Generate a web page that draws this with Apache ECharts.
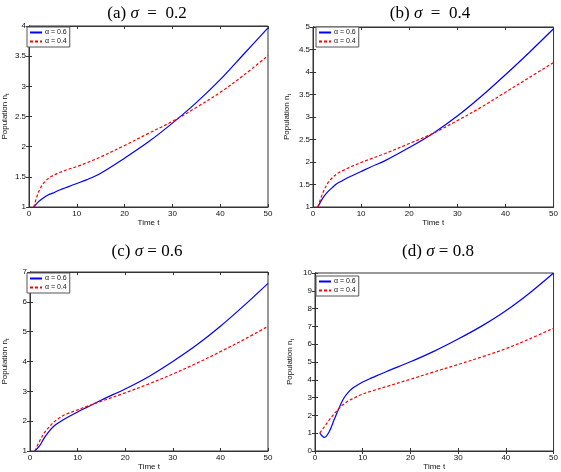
<!DOCTYPE html>
<html>
<head>
<meta charset="utf-8">
<script src="https://cdn.jsdelivr.net/npm/echarts@6/dist/echarts.min.js"></script>
<style>
html,body{margin:0;padding:0;background:#fff;}
#chart{width:561px;height:472px;}
</style>
</head>
<body>
<div id="chart"></div>
<script>
// ---- data ----
const times = [1,2,3,4,5,6,7,8,10,12,15,20,25,30,35,40,45,50];
const panelTitles = ['(a) ', '(b) ', '(c) ', '(d) '];
const sigmaValues = ['0.2', '0.4', '0.6', '0.8'];
const seriesNames = ['α = 0.6', 'α = 0.4'];
const xTicks = [0, 50, 10];            // min, max, interval
const yMinA = 1, yMaxA = 4, yStepA = 0.5;
const yMinB = 1, yMaxB = 5, yStepB = 0.5;
const yMinC = 1, yMaxC = 7, yStepC = 1;
const yMinD = 0, yMaxD = 10, yStepD = 1;

const aBlue = [1.0,1.09,1.15,1.20,1.23,1.27,1.30,1.33,1.39,1.45,1.56,1.81,2.08,2.39,2.73,3.11,3.54,3.97];
const aRed  = [1.0,1.25,1.39,1.47,1.52,1.56,1.59,1.62,1.67,1.73,1.83,2.02,2.22,2.42,2.65,2.90,3.19,3.51];
const bBlue = [1.0,1.19,1.33,1.43,1.52,1.58,1.64,1.69,1.79,1.89,2.03,2.32,2.64,3.02,3.46,3.94,4.44,4.96];
const bRed  = [1.0,1.30,1.52,1.65,1.74,1.80,1.85,1.90,1.99,2.07,2.19,2.41,2.64,2.92,3.22,3.55,3.88,4.21];
const cBlue = [1.0,1.17,1.44,1.66,1.83,1.95,2.05,2.14,2.31,2.47,2.71,3.08,3.50,4.00,4.55,5.18,5.88,6.62];
const cRed  = [1.0,1.33,1.61,1.80,1.97,2.09,2.19,2.26,2.38,2.50,2.67,2.95,3.25,3.58,3.94,4.33,4.74,5.18];
const dBlue = [1.01,0.77,1.10,1.75,2.39,2.95,3.31,3.55,3.88,4.12,4.47,5.01,5.61,6.29,7.03,7.88,8.88,10.0];
const dRed  = [1.01,1.38,1.75,2.08,2.39,2.63,2.82,2.95,3.20,3.38,3.62,4.03,4.45,4.86,5.29,5.75,6.30,6.90];

// ---- layout ----
const panels = [
  {grid:{left:25, top:26, width:243, height:181}, y:[yMinA,yMaxA,yStepA], blue:aBlue, red:aRed, nameGapY:19, legend:{left:27, top:27}, title:{left:142, top:0, sp:'\u2002'}},
  {grid:{left:313, top:27, width:243, height:180}, y:[yMinB,yMaxB,yStepB], blue:bBlue, red:bRed, nameGapY:21, legend:{left:316, top:27}, title:{left:425, top:0, sp:'\u2002'}},
  {grid:{left:25, top:272, width:243, height:181}, y:[yMinC,yMaxC,yStepC], blue:cBlue, red:cRed, nameGapY:20, legend:{left:27, top:273}, title:{left:142, top:238, sp:' '}},
  {grid:{left:315, top:273, width:242, height:181}, y:[yMinD,yMaxD,yStepD], blue:dBlue, red:dRed, nameGapY:20, legend:{left:316, top:276}, title:{left:433, top:238, sp:' '}}
];

const FONT = 'Liberation Sans';
const lineCol = '#333';
const txtCol = '#111';

const option = {
  animation:false,
  backgroundColor:'#fff',
  title:[], grid:[], xAxis:[], yAxis:[], series:[], legend:[]
};

panels.forEach((p, i) => {
  option.title.push({
    text: panelTitles[i] + '{i|σ}' + p.title.sp + '=' + p.title.sp + sigmaValues[i],
    left: p.title.left, top: p.title.top, textAlign:'center',
    textStyle:{fontFamily:'Liberation Serif', fontSize:17, fontWeight:'normal', color:'#000',
      rich:{i:{fontFamily:'Liberation Serif', fontSize:17, fontStyle:'italic', color:'#000'}}}
  });
  option.grid.push(Object.assign({show:true, borderColor:lineCol, borderWidth:1, backgroundColor:'#fff'}, p.grid));
  const baseX = {
    type:'value', gridIndex:i, min:xTicks[0], max:xTicks[1], interval:xTicks[2],
    axisLine:{show:true, lineStyle:{color:lineCol, width:1}},
    axisTick:{show:true, inside:true, length:3, lineStyle:{color:lineCol}},
    splitLine:{show:false}
  };
  option.xAxis.push(Object.assign({}, baseX, {
    position:'bottom', name:'Time t', nameLocation:'middle', nameGap:12,
    nameTextStyle:{fontFamily:FONT, fontSize:8, color:txtCol},
    axisLabel:{fontFamily:FONT, fontSize:8, color:txtCol, margin:3}
  }));
  option.xAxis.push(Object.assign({}, baseX, {position:'top', axisLabel:{show:false}}));
  const baseY = {
    type:'value', gridIndex:i, min:p.y[0], max:p.y[1], interval:p.y[2],
    axisLine:{show:true, lineStyle:{color:lineCol, width:1}},
    axisTick:{show:true, inside:true, length:3, lineStyle:{color:lineCol}},
    splitLine:{show:false}
  };
  option.yAxis.push(Object.assign({}, baseY, {
    position:'left', name:'Population n{s|t}', nameLocation:'middle', nameGap:p.nameGapY,
    nameRotate:90,
    nameTextStyle:{fontFamily:FONT, fontSize:8, color:txtCol, rich:{s:{fontFamily:FONT, fontSize:6, color:txtCol, verticalAlign:'bottom', padding:[4,0,0,0]}}},
    axisLabel:{fontFamily:FONT, fontSize:8, color:txtCol, margin:3}
  }));
  option.yAxis.push(Object.assign({}, baseY, {position:'right', axisLabel:{show:false}}));

  const mk = (arr) => times.map((t, k) => [t, arr[k]]);
  option.series.push({
    name:seriesNames[0], type:'line', xAxisIndex:2*i, yAxisIndex:2*i,
    data:mk(p.blue), symbol:'none', smooth:0.35,
    lineStyle:{color:'#0000ff', width:1.2, type:'solid'}, itemStyle:{color:'#0000ff'}
  });
  option.series.push({
    name:seriesNames[1], type:'line', xAxisIndex:2*i, yAxisIndex:2*i,
    data:mk(p.red), symbol:'none', smooth:0.35,
    lineStyle:{color:'#ff0000', width:1.2, type:[3,2]}, itemStyle:{color:'#ff0000'}
  });
  option.legend.push({
    left:p.legend.left, top:p.legend.top, orient:'vertical',
    data:seriesNames, itemWidth:12, itemHeight:7, itemGap:2,
    padding:[2,3,2,2], borderColor:'#555', borderWidth:1, backgroundColor:'#fff',
    selectedMode:false,
    itemStyle:{opacity:0},
    textStyle:{fontFamily:FONT, fontSize:7, color:txtCol, padding:[0,0,0,-2]}
  });
});

const chart = echarts.init(document.getElementById('chart'), null, {renderer:'canvas'});
chart.setOption(option);
</script>
</body>
</html>
